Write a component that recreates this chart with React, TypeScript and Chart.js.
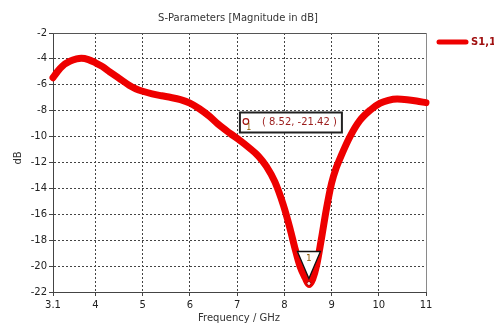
import React, { useEffect, useRef } from 'react';
import { Chart, registerables } from 'chart.js';

Chart.register(...registerables);

const freqGHz = [
  3.1, 3.2, 3.3, 3.45, 3.6, 3.7, 3.85, 4.0, 4.15, 4.3, 4.5, 4.72, 4.85, 5.0, 5.2, 5.4, 5.6, 5.8,
  6.0, 6.2, 6.42, 6.6, 6.85, 7.06, 7.25, 7.45, 7.62, 7.8, 7.98, 8.12, 8.23, 8.33, 8.44, 8.52,
  8.6, 8.68, 8.78, 8.89, 9.0, 9.1, 9.2, 9.39, 9.6, 9.82, 10.03, 10.2, 10.39, 10.6, 10.8, 11.0,
];
const s11dB = [
  -5.45, -4.95, -4.55, -4.2, -4.0, -3.95, -4.05, -4.3, -4.6, -5.0, -5.5, -6.05, -6.3, -6.5, -6.7,
  -6.85, -6.98, -7.15, -7.42, -7.85, -8.45, -9.05, -9.75, -10.3, -10.85, -11.5, -12.3, -13.5, -15.3,
  -17.1, -18.7, -20.0, -20.9, -21.42, -21.0, -20.0, -18.0, -15.6, -13.6, -12.4, -11.5, -10.0, -8.75,
  -7.95, -7.42, -7.2, -7.1, -7.15, -7.25, -7.38,
];
const xTickValues = [3.1, 4, 5, 6, 7, 8, 9, 10, 11];
const yMin = -22;
const yMax = -2;
const yStep = 2;
const markerFreq = 8.52;
const markerDb = -21.42;
const markerId = '1';
const chartTitle = 'S-Parameters [Magnitude in dB]';
const xTitle = 'Frequency / GHz';
const yTitle = 'dB';
const seriesLabel = 'S1,1';

const FONT = '"DejaVu Sans", Verdana, sans-serif';
const RED = '#ee0000';

const overlayPlugin = {
  id: 'overlay',
  beforeDatasetsDraw(chart: any) {
    const { ctx, chartArea: a } = chart;
    ctx.save();
    ctx.lineWidth = 1;
    ctx.strokeStyle = '#555555';
    ctx.beginPath();
    ctx.moveTo(a.left, Math.round(a.top) + 0.5);
    ctx.lineTo(a.right, Math.round(a.top) + 0.5);
    ctx.stroke();
    ctx.strokeStyle = '#8a8a8a';
    ctx.beginPath();
    ctx.moveTo(Math.round(a.right) + 0.5, a.top);
    ctx.lineTo(Math.round(a.right) + 0.5, a.bottom);
    ctx.stroke();
    ctx.restore();
  },
  afterDraw(chart: any) {
    const { ctx, chartArea: a, scales } = chart;
    ctx.save();
    // Title
    ctx.fillStyle = '#333333';
    ctx.font = `10px ${FONT}`;
    ctx.textAlign = 'center';
    ctx.textBaseline = 'middle';
    ctx.fillText(chartTitle, 238, 18);
    // X title
    ctx.fillText(xTitle, 239, 318);
    // Y title
    ctx.save();
    ctx.translate(18, 158);
    ctx.rotate(-Math.PI / 2);
    ctx.fillText(yTitle, 0, 0);
    ctx.restore();

    // Legend
    ctx.strokeStyle = RED;
    ctx.lineWidth = 5;
    ctx.lineCap = 'round';
    ctx.beginPath();
    ctx.moveTo(a.right + 13, 42);
    ctx.lineTo(a.right + 40, 42);
    ctx.stroke();
    ctx.fillStyle = '#a01010';
    ctx.font = `bold 10px ${FONT}`;
    ctx.textAlign = 'left';
    ctx.fillText(seriesLabel, a.right + 45, 42);

    // Marker
    const mx = scales.x.getPixelForValue(markerFreq);
    const my = scales.y.getPixelForValue(markerDb);
    // triangle
    ctx.lineCap = 'butt';
    ctx.beginPath();
    ctx.moveTo(mx - 11.5, my - 33);
    ctx.lineTo(mx + 11.5, my - 33);
    ctx.lineTo(mx, my - 6);
    ctx.closePath();
    ctx.fillStyle = '#ffffff';
    ctx.fill();
    ctx.strokeStyle = '#111111';
    ctx.lineWidth = 1.3;
    ctx.stroke();
    ctx.fillStyle = '#8b5a00';
    ctx.font = `9px ${FONT}`;
    ctx.textAlign = 'center';
    ctx.fillText(markerId, mx, my - 26);
    // small circle at minimum
    ctx.beginPath();
    ctx.arc(mx, my - 1, 2, 0, Math.PI * 2);
    ctx.fillStyle = '#ffdede';
    ctx.fill();
    ctx.strokeStyle = '#aa0000';
    ctx.lineWidth = 1;
    ctx.stroke();

    // Annotation box
    const bx = mx - 69;
    const by = my - 172;
    const bw = 102;
    const bh = 20;
    ctx.fillStyle = '#ffffff';
    ctx.fillRect(bx, by, bw, bh);
    ctx.strokeStyle = '#222222';
    ctx.lineWidth = 2;
    ctx.strokeRect(bx, by, bw, bh);
    ctx.beginPath();
    ctx.arc(bx + 6, by + 9, 2.8, 0, Math.PI * 2);
    ctx.strokeStyle = '#a01010';
    ctx.lineWidth = 1.2;
    ctx.stroke();
    ctx.fillStyle = '#8b5a00';
    ctx.font = `8px ${FONT}`;
    ctx.fillText(markerId, bx + 9, by + 15);
    ctx.fillStyle = '#9b1c1c';
    ctx.font = `10px ${FONT}`;
    ctx.textAlign = 'left';
    ctx.fillText(`( ${markerFreq.toFixed(2)}, ${markerDb.toFixed(2)} )`, bx + 22, by + 10);
    ctx.restore();
  },
};

export default function App() {
  const canvasRef = useRef<HTMLCanvasElement | null>(null);

  useEffect(() => {
    const canvas = canvasRef.current;
    if (!canvas) return;
    const points = freqGHz.map((f, i) => ({ x: f, y: s11dB[i] }));
    const nY = Math.round((yMax - yMin) / yStep) + 1;
    const chart = new Chart(canvas, {
      type: 'line',
      data: {
        datasets: [
          {
            label: seriesLabel,
            data: points,
            borderColor: RED,
            borderWidth: 7,
            pointRadius: 0,
            cubicInterpolationMode: 'monotone',
            borderCapStyle: 'round',
            borderJoinStyle: 'round',
            clip: false,
            fill: false,
          } as any,
        ],
      },
      options: {
        animation: false,
        responsive: false,
        devicePixelRatio: 1,
        layout: { padding: { top: 33, right: 68, bottom: 0, left: 0 } },
        plugins: { legend: { display: false }, title: { display: false }, tooltip: { enabled: false } },
        scales: {
          x: {
            type: 'linear',
            min: xTickValues[0],
            max: xTickValues[xTickValues.length - 1],
            afterBuildTicks: (scale: any) => {
              scale.ticks = xTickValues.map((v) => ({ value: v }));
            },
            afterFit: (scale: any) => {
              scale.height = 32;
            },
            ticks: {
              autoSkip: false,
              maxRotation: 0,
              padding: 3,
              color: '#222222',
              font: { family: FONT, size: 10 },
              callback: (v: any) => String(v),
            },
            grid: {
              color: (c: any) =>
                c.index === 0 || c.index === xTickValues.length - 1 ? 'rgba(0,0,0,0)' : '#444444',
              lineWidth: 1,
              tickLength: 4,
              tickColor: '#444444',
            },
            border: { display: true, color: '#444444', width: 1, dash: [2, 2] },
          },
          y: {
            type: 'linear',
            min: yMin,
            max: yMax,
            afterFit: (scale: any) => {
              scale.width = 53;
            },
            ticks: {
              stepSize: yStep,
              padding: 2,
              color: '#222222',
              font: { family: FONT, size: 10 },
              callback: (v: any) => String(v),
            },
            grid: {
              color: (c: any) => (c.index === 0 || c.index === nY - 1 ? 'rgba(0,0,0,0)' : '#444444'),
              lineWidth: 1,
              tickLength: 4,
              tickColor: '#444444',
            },
            border: { display: true, color: '#444444', width: 1, dash: [2, 2] },
          },
        },
      } as any,
      plugins: [overlayPlugin],
    });
    return () => chart.destroy();
  }, []);

  return (
    <div style={{ position: 'fixed', left: 0, top: 0, width: 494, height: 324, background: '#ffffff' }}>
      <canvas ref={canvasRef} width={494} height={324} style={{ width: 494, height: 324, display: 'block' }} />
    </div>
  );
}
